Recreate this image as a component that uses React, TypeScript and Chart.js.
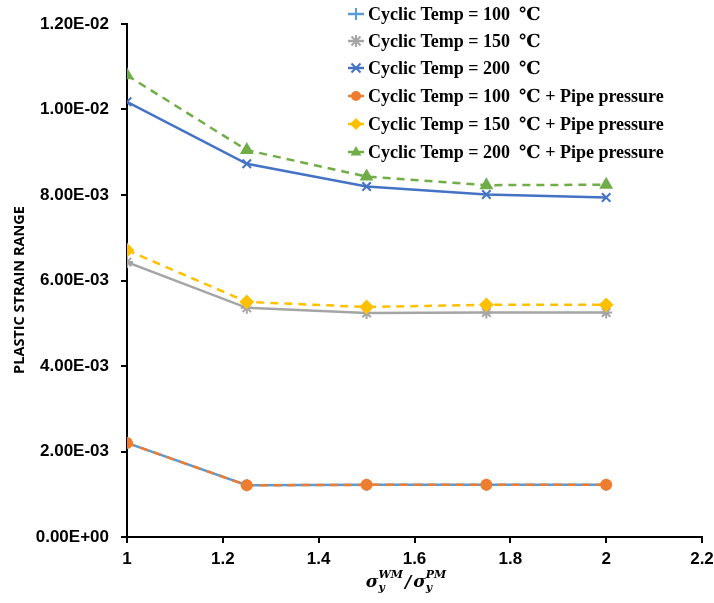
import React, { useEffect, useRef } from "react";
import { Chart, registerables } from "chart.js";

Chart.register(...registerables);

const xValues = [1, 1.25, 1.5, 1.75, 2];
const temp100 = [0.0022, 0.00121, 0.00122, 0.00122, 0.00122];
const temp150 = [0.00643, 0.00536, 0.00524, 0.00525, 0.00525];
const temp200 = [0.01018, 0.00873, 0.00820, 0.00801, 0.00794];
const temp100Pipe = [0.0022, 0.00121, 0.00122, 0.00122, 0.00122];
const temp150Pipe = [0.00671, 0.0055, 0.00538, 0.00543, 0.00543];
const temp200Pipe = [0.01080, 0.00905, 0.00843, 0.00823, 0.00824];
const seriesLabels = [
  "Cyclic Temp = 100  ℃",
  "Cyclic Temp = 150  ℃",
  "Cyclic Temp = 200  ℃",
  "Cyclic Temp = 100  ℃ + Pipe pressure",
  "Cyclic Temp = 150  ℃ + Pipe pressure",
  "Cyclic Temp = 200  ℃ + Pipe pressure",
];
const yTitle = "PLASTIC STRAIN RANGE";

function fmtExp(v: number): string {
  if (v === 0) return "0.00E+00";
  const s = v.toExponential(2);
  const [m, e] = s.split("e");
  const n = parseInt(e, 10);
  const sign = n < 0 ? "-" : "+";
  const abs = Math.abs(n);
  return m + "E" + sign + (abs < 10 ? "0" + abs : String(abs));
}

function drawPointStyle(ctx: CanvasRenderingContext2D, style: string, x: number, y: number, r: number, color: string) {
  ctx.save();
  ctx.setLineDash([]);
  ctx.strokeStyle = color;
  ctx.fillStyle = color;
  ctx.lineWidth = 2;
  ctx.beginPath();
  if (style === "cross") {
    ctx.moveTo(x - r, y); ctx.lineTo(x + r, y);
    ctx.moveTo(x, y - r); ctx.lineTo(x, y + r);
    ctx.stroke();
  } else if (style === "crossRot") {
    const d = r * 0.75;
    ctx.moveTo(x - d, y - d); ctx.lineTo(x + d, y + d);
    ctx.moveTo(x - d, y + d); ctx.lineTo(x + d, y - d);
    ctx.stroke();
  } else if (style === "star") {
    const d = r * 0.75;
    ctx.moveTo(x - r, y); ctx.lineTo(x + r, y);
    ctx.moveTo(x, y - r); ctx.lineTo(x, y + r);
    ctx.moveTo(x - d, y - d); ctx.lineTo(x + d, y + d);
    ctx.moveTo(x - d, y + d); ctx.lineTo(x + d, y - d);
    ctx.stroke();
  } else if (style === "circle") {
    ctx.arc(x, y, r, 0, Math.PI * 2);
    ctx.fill();
  } else if (style === "rectRot") {
    ctx.moveTo(x, y - r); ctx.lineTo(x + r, y); ctx.lineTo(x, y + r); ctx.lineTo(x - r, y);
    ctx.closePath();
    ctx.fill();
  } else if (style === "triangle") {
    ctx.moveTo(x, y - r); ctx.lineTo(x + r * 0.9, y + r * 0.6); ctx.lineTo(x - r * 0.9, y + r * 0.6);
    ctx.closePath();
    ctx.fill();
  }
  ctx.restore();
}

const legendPlugin = {
  id: "customLegend",
  afterDraw(chart: any) {
    const ctx = chart.ctx;
    const rowsY = [14, 41, 68, 96, 124, 152];
    const markerX = 356;
    const textX = 368;
    ctx.save();
    chart.data.datasets.forEach((ds: any, i: number) => {
      const y = rowsY[i];
      ctx.strokeStyle = ds.borderColor;
      ctx.lineWidth = 2.5;
      ctx.setLineDash([]);
      ctx.beginPath();
      ctx.moveTo(markerX - 8, y);
      ctx.lineTo(markerX + 8, y);
      ctx.stroke();
      drawPointStyle(ctx, ds.pointStyle, markerX, y, ds.pointRadius, ds.borderColor);
      ctx.fillStyle = "#000";
      ctx.font = "bold 18px 'Liberation Serif', 'DejaVu Serif', serif";
      ctx.textBaseline = "middle";
      ctx.textAlign = "left";
      ctx.fillText(seriesLabels[i], textX, y + 1);
    });
    ctx.restore();

    // x axis title: sigma_y^WM / sigma_y^PM
    const cx = 406;
    const by = 587;
    ctx.save();
    ctx.fillStyle = "#000";
    ctx.textBaseline = "alphabetic";
    ctx.textAlign = "left";
    const big = "italic bold 17px 'DejaVu Serif', 'Liberation Serif', serif";
    const small = "italic bold 11px 'DejaVu Serif', 'Liberation Serif', serif";
    const parts: { sig: string; sup: string; sub: string }[] = [
      { sig: "σ", sup: "WM", sub: "y" },
      { sig: "σ", sup: "PM", sub: "y" },
    ];
    ctx.font = big;
    const wSig = ctx.measureText("σ").width;
    const wSlash = ctx.measureText("/").width;
    ctx.font = small;
    const w0 = Math.max(ctx.measureText("WM").width, ctx.measureText("y").width);
    const w1 = Math.max(ctx.measureText("PM").width, ctx.measureText("y").width);
    const total = wSig + w0 + 2 + wSlash + 2 + wSig + w1;
    let x = cx - total / 2;
    parts.forEach((p, k) => {
      ctx.font = big;
      ctx.fillText(p.sig, x, by);
      x += wSig;
      ctx.font = small;
      ctx.fillText(p.sup, x, by - 9);
      ctx.fillText(p.sub, x, by + 4);
      x += k === 0 ? w0 : w1;
      if (k === 0) {
        x += 2;
        ctx.font = big;
        ctx.fillText("/", x, by);
        x += wSlash + 2;
      }
    });
    ctx.restore();

    // y axis title
    ctx.save();
    ctx.translate(20, 290);
    ctx.rotate(-Math.PI / 2);
    ctx.fillStyle = "#000";
    ctx.font = "bold 14.5px 'Open Sans', 'Liberation Sans', sans-serif";
    ctx.textAlign = "center";
    ctx.textBaseline = "middle";
    ctx.fillText(yTitle, 0, 0);
    ctx.restore();
  },
};

function mk(data: number[], color: string, style: string, dashed: boolean, radius: number, order: number) {
  return {
    data: data.map((v, i) => ({ x: xValues[i], y: v })),
    borderColor: color,
    backgroundColor: color,
    pointBackgroundColor: color,
    pointBorderColor: color,
    pointStyle: style,
    pointRadius: radius,
    pointBorderWidth: 2,
    borderWidth: 2.5,
    borderDash: dashed ? [8, 6] : [],
    tension: 0,
    fill: false,
    order,
  };
}

export default function App() {
  const ref = useRef<HTMLCanvasElement>(null);
  useEffect(() => {
    document.body.style.margin = "0";
    const chart = new Chart(ref.current!, {
      type: "scatter",
      data: {
        datasets: [
          mk(temp100, "#5B9BD5", "cross", false, 6, 2),
          mk(temp150, "#A5A5A5", "star", false, 6, 2),
          mk(temp200, "#4472C4", "crossRot", false, 6, 2),
          mk(temp100Pipe, "#ED7D31", "circle", true, 5, 1),
          mk(temp150Pipe, "#FFC000", "rectRot", true, 6, 1),
          mk(temp200Pipe, "#70AD47", "triangle", true, 6, 1),
        ] as any,
      },
      options: {
        animation: false,
        responsive: false,
        showLine: true,
        layout: { padding: { top: 24, right: 0, left: 0, bottom: 0 } },
        plugins: { legend: { display: false }, tooltip: { enabled: false } },
        scales: {
          x: {
            type: "linear",
            min: 1,
            max: 2.2,
            ticks: {
              stepSize: 0.2,
              color: "#000",
              font: { family: "'Liberation Sans', sans-serif", weight: "bold", size: 17 },
              padding: 6,
              maxRotation: 0,
              callback: (v: any) => String(Math.round(Number(v) * 10) / 10),
            },
            grid: { display: true, drawOnChartArea: false, drawTicks: true, tickLength: 6, color: "#000", lineWidth: 2 },
            border: { display: true, color: "#000", width: 2 },
            afterFit: (s: any) => { s.height = 66; s.paddingRight = 12; },
          },
          y: {
            type: "linear",
            min: 0,
            max: 0.012,
            ticks: {
              stepSize: 0.002,
              color: "#000",
              font: { family: "'Liberation Sans', sans-serif", weight: "bold", size: 17 },
              padding: 12,
              callback: (v: any) => fmtExp(Number(v)),
            },
            grid: { display: true, drawOnChartArea: false, drawTicks: true, tickLength: 6, color: "#000", lineWidth: 2 },
            border: { display: true, color: "#000", width: 2 },
            afterFit: (s: any) => { s.width = 127; },
          },
        },
      } as any,
      plugins: [legendPlugin],
    });
    return () => chart.destroy();
  }, []);
  return <canvas ref={ref} width={714} height={603} style={{ display: "block" }} />;
}
